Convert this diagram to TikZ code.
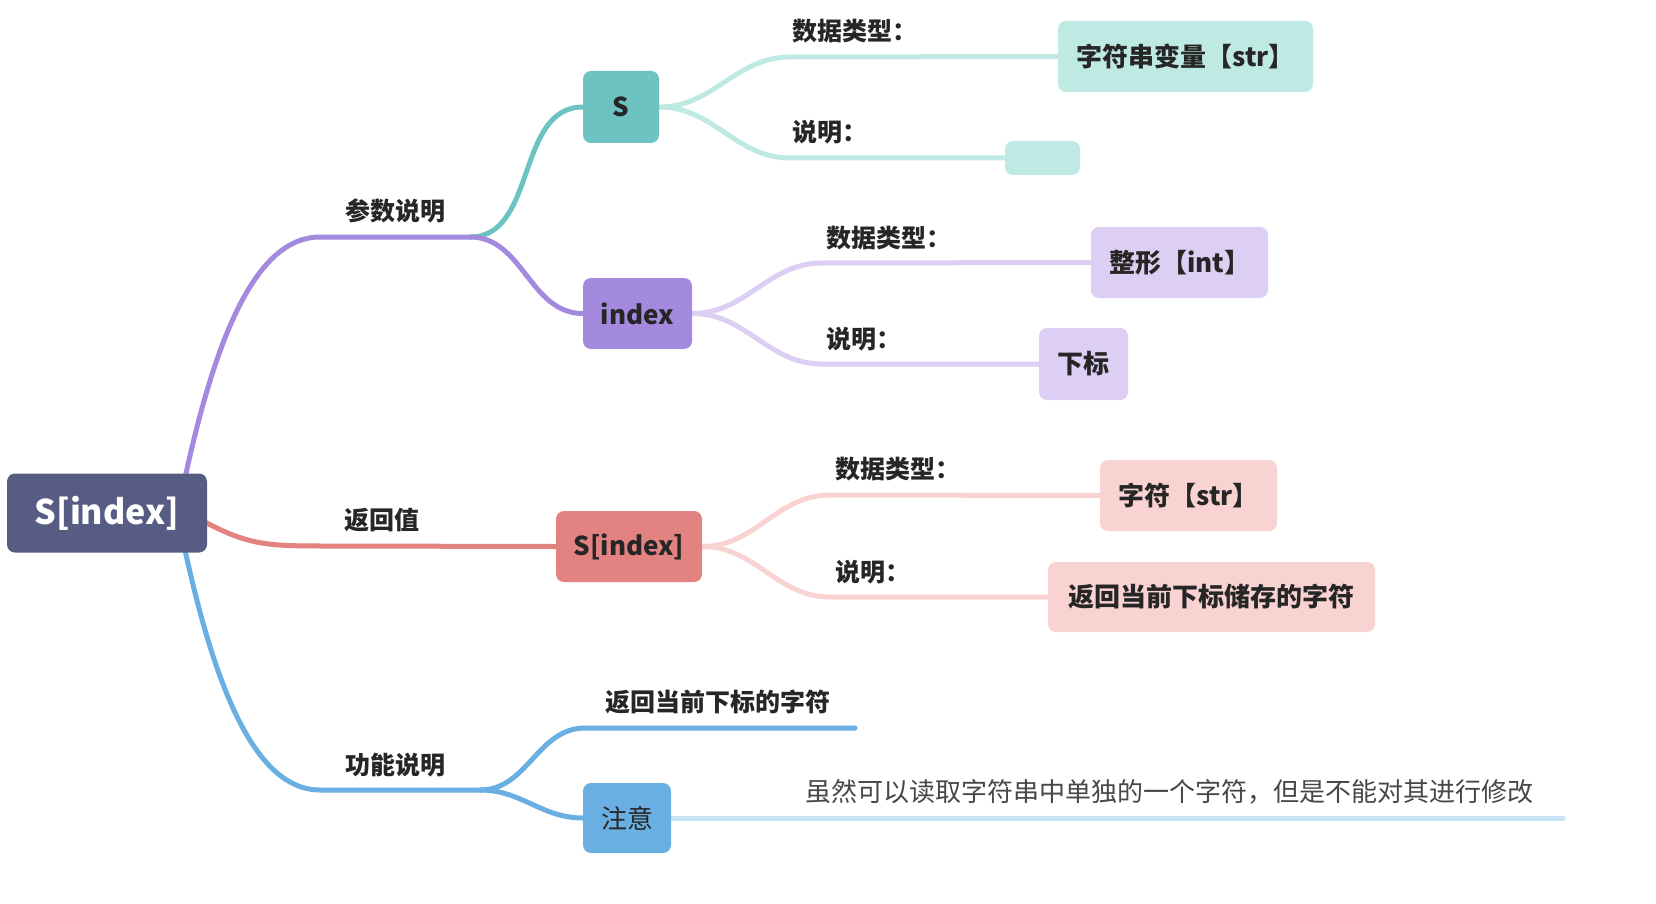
\documentclass[tikz,border=0pt]{standalone}
\usepackage{fontspec}
\setmainfont{Noto Sans CJK SC}
\pgfdeclarelayer{background}
\pgfsetlayers{background,main}
\definecolor{txt}{HTML}{262626}
\definecolor{rootc}{HTML}{575D82}
\definecolor{purp}{HTML}{A48ADE}
\definecolor{purpl}{HTML}{DCCFF3}
\definecolor{tealc}{HTML}{6CC3C1}
\definecolor{teall}{HTML}{BFE9E3}
\definecolor{redc}{HTML}{E38381}
\definecolor{pinkl}{HTML}{F9D3D2}
\definecolor{bluec}{HTML}{6AAFE1}
\definecolor{bluel}{HTML}{C7E4F4}
\begin{document}
\begin{tikzpicture}[x=1pt,y=-1pt,
  nbox/.style={rounded corners=8pt, inner sep=0pt, text=txt, align=center,
    font=\bfseries\fontsize{26}{30}\selectfont},
  lbl/.style={text=txt, inner sep=0pt, font=\bfseries\fontsize{25}{30}\selectfont},
  conn/.style={line width=5pt, line cap=round}]
\useasboundingbox (0,0) rectangle (1656,904);
% root
\node[nbox, fill=rootc, text=white, minimum width=200pt, minimum height=79pt,
  font=\bfseries\fontsize{34}{40}\selectfont] (root) at (107,513) {S[index]};
% level 1 labels
\node[lbl] (l1) at (395,211) {参数说明};
\node[lbl] (l2) at (382,520) {返回值};
\node[lbl] (l3) at (395,765) {功能说明};
% level 2 nodes
\node[nbox, fill=tealc, minimum width=76pt, minimum height=72pt] (S) at (621,107) {S};
\node[nbox, fill=purp, minimum width=109pt, minimum height=71pt] (idx) at (637.5,313.5) {index};
\node[nbox, fill=redc, minimum width=146pt, minimum height=71pt] (sidx) at (629,546.5) {S[index]};
\node[lbl] (fn) at (718,702) {返回当前下标的字符};
\node[nbox, fill=bluec, minimum width=88pt, minimum height=70pt,
  font=\fontsize{26}{30}\selectfont] (note) at (627,818) {注意};
% level 3 boxes
\node[nbox, fill=teall, minimum width=255pt, minimum height=71pt] (b1) at (1185.5,56.5) {字符串变量【str】};
\node[nbox, fill=teall, minimum width=75pt, minimum height=34pt] (b2) at (1042.5,158) {};
\node[nbox, fill=purpl, minimum width=177pt, minimum height=71pt] (b3) at (1179.5,262.5) {整形【int】};
\node[nbox, fill=purpl, minimum width=89pt, minimum height=72pt] (b4) at (1083.5,364) {下标};
\node[nbox, fill=pinkl, minimum width=177pt, minimum height=71pt] (b5) at (1188.5,495.5) {字符【str】};
\node[nbox, fill=pinkl, minimum width=327pt, minimum height=70pt] (b6) at (1211.5,597) {返回当前下标储存的字符};
% level 3 labels
\node[lbl, anchor=west] (t1) at (792,31) {数据类型：};
\node[lbl, anchor=west] (t2) at (792,132) {说明：};
\node[lbl, anchor=west] (t3) at (826,238) {数据类型：};
\node[lbl, anchor=west] (t4) at (826,339) {说明：};
\node[lbl, anchor=west] (t5) at (835,469) {数据类型：};
\node[lbl, anchor=west] (t6) at (835,572) {说明：};
\node[text=txt!85, inner sep=0pt, anchor=west, font=\fontsize{26}{30}\selectfont] (cm) at (805,792)
  {虽然可以读取字符串中单独的一个字符，但是不能对其进行修改};
% coordinates
\coordinate (r1) at (185,478);
\coordinate (h1) at (320,237);
\coordinate (j1) at (470,237);
\coordinate (r2) at (205,522);
\coordinate (h2) at (330,546);
\coordinate (r3) at (185,550);
\coordinate (h3) at (320,790);
\coordinate (j2) at (480,790);
\coordinate (c1) at (790,57);
\coordinate (c2) at (790,158);
\coordinate (c3) at (822,263);
\coordinate (c4) at (822,364);
\coordinate (c5) at (830,495);
\coordinate (c6) at (830,597);
\coordinate (c7) at (585,728);
\coordinate (e7) at (855,728);
\coordinate (e8) at (1563,818);
\begin{pgfonlayer}{background}
\draw[conn, purp] (r1) .. controls (215,340) and (255,237) .. (h1) -- (j1);
\draw[conn, redc] (r2) .. controls (250,546) and (270,546) .. (h2) -- (sidx.west);
\draw[conn, bluec] (r3) .. controls (215,687) and (255,790) .. (h3) -- (j2);
\draw[conn, tealc] (j1) to[out=0,in=180] (S.west);
\draw[conn, purp] (j1) to[out=0,in=180] (idx.west);
\draw[conn, teall] (S.east) to[out=0,in=180] (c1) -- (b1.west);
\draw[conn, teall] (S.east) to[out=0,in=180] (c2) -- (b2.west);
\draw[conn, purpl] (idx.east) to[out=0,in=180] (c3) -- (b3.west);
\draw[conn, purpl] (idx.east) to[out=0,in=180] (c4) -- (b4.west);
\draw[conn, pinkl] (sidx.east) to[out=0,in=180] (c5) -- (b5.west);
\draw[conn, pinkl] (sidx.east) to[out=0,in=180] (c6) -- (b6.west);
\draw[conn, bluec] (j2) to[out=0,in=180] (c7) -- (e7);
\draw[conn, bluec] (j2) to[out=0,in=180] (note.west);
\draw[conn, bluel] (note.east) -- (e8);
\end{pgfonlayer}
\end{tikzpicture}
\end{document}
